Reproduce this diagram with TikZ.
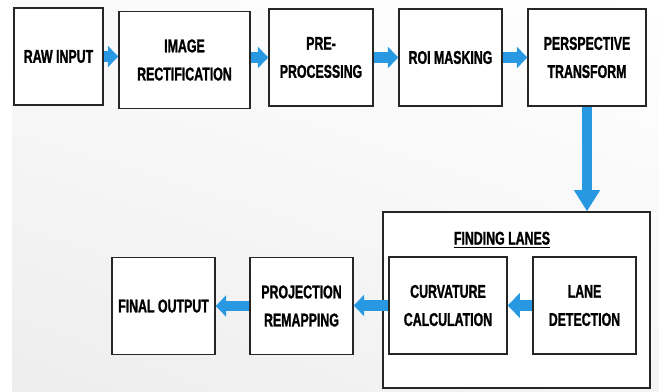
\documentclass[tikz,border=0pt]{standalone}
\usepackage{fontspec}
\setmainfont{Liberation Sans}[FakeStretch=0.67, BoldFeatures={FakeBold=1.2}]
\usetikzlibrary{arrows.meta, shadings}
\definecolor{arrowblue}{RGB}{41,152,226}

\begin{document}
\begin{tikzpicture}
        [x=0.02cm, y=-0.02cm,
        every node/.style={align=center, font=\bfseries\fontsize{10.5}{16}\selectfont},
        stage/.style={draw=black!85, line width=0.8pt, fill=white, minimum height=1.94cm},
        flow/.style={arrowblue, line width=6.2pt, -{Triangle[width=12pt,length=6pt]}}]

        \useasboundingbox (0,0) rectangle (659,392);
        \shade[upper right=white, upper left=gray!4, lower left=gray!14, lower right=gray!8] (12,0) rectangle (659,392);

        \node[stage, minimum width=1.78cm] (raw) at (58.5, 56.5) {RAW INPUT};
        \node[stage, minimum width=2.62cm] (rect) at (184.5, 60) {IMAGE\\RECTIFICATION};
        \node[stage, minimum width=2.08cm] (pre) at (321, 57.5) {PRE-\\PROCESSING};
        \node[stage, minimum width=2.06cm] (roi) at (450.5, 57.5) {ROI MASKING};
        \node[stage, minimum width=2.36cm] (persp) at (587, 57.5) {PERSPECTIVE\\TRANSFORM};

        \node[stage, minimum width=5.34cm, minimum height=3.52cm] (find) at (516.5, 300) {};
        \node (title) at (502, 240) {\underline{FINDING LANES}};
        \node[stage, minimum width=2.36cm] (curv) at (448, 305.5) {CURVATURE\\CALCULATION};
        \node[stage, minimum width=2.06cm] (lane) at (584.5, 305.5) {LANE\\DETECTION};

        \node[stage, minimum width=2.06cm] (proj) at (301.5, 306) {PROJECTION\\REMAPPING};
        \node[stage, minimum width=2.06cm] (final) at (163.5, 306) {FINAL OUTPUT};

        \draw[flow] (raw.east) -- (raw.east -| rect.west);
        \draw[flow] (pre.west -| rect.east) -- (pre.west);
        \draw[flow] (pre) -- (roi);
        \draw[flow] (roi) -- (persp);
        \draw[flow, line width=5.7pt, -{Triangle[width=14pt,length=12pt]}] (persp.south) -- (persp.south |- find.north);
        \draw[flow, -{Triangle[width=14pt,length=7pt]}] (lane) -- (curv);
        \draw[flow] (curv.west) -- (curv.west -| proj.east);
        \draw[flow] (proj) -- (final);

      \end{tikzpicture}
\end{document}
